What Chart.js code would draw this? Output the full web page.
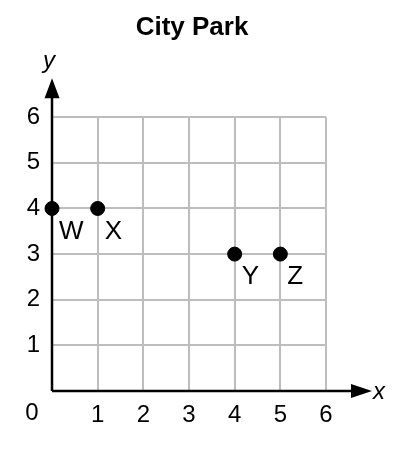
<!DOCTYPE html>
<html>
<head>
<meta charset="utf-8">
<script src="https://cdn.jsdelivr.net/npm/chart.js@4"></script>
<style>
  html, body { margin: 0; padding: 0; background: #fff; }
  #wrap { width: 408px; height: 449px; }
</style>
</head>
<body>
<div id="wrap"><canvas id="park"></canvas></div>
<script>
var titleText = "City Park";
var pointNames = ["W", "X", "Y", "Z"];
var xValues = [0, 1, 4, 5];
var yValues = [4, 4, 3, 3];
var axisMin = 0;
var axisMax = 6;
var fontName = "'Liberation Sans', Arial, sans-serif";

var points = [];
for (var i = 0; i < xValues.length; i++) {
  points.push({ x: xValues[i], y: yValues[i] });
}

// axes with arrows, axis names, origin label and point names
var decorPlugin = {
  id: "decor",
  afterDatasetsDraw: function (chart) {
    var ctx = chart.ctx;
    var area = chart.chartArea;
    var x0 = chart.scales.x.getPixelForValue(0);
    var y0 = chart.scales.y.getPixelForValue(0);
    ctx.save();
    ctx.strokeStyle = "#000";
    ctx.fillStyle = "#000";
    ctx.lineWidth = 2.5;
    ctx.beginPath();
    ctx.moveTo(x0, y0);
    ctx.lineTo(x0, area.top - 24);
    ctx.moveTo(x0, y0);
    ctx.lineTo(area.right + 30, y0);
    ctx.stroke();

    // arrow heads
    ctx.beginPath();
    ctx.moveTo(x0, area.top - 39);
    ctx.lineTo(x0 - 7.5, area.top - 19);
    ctx.lineTo(x0 + 7.5, area.top - 19);
    ctx.closePath();
    ctx.fill();
    ctx.beginPath();
    ctx.moveTo(area.right + 46, y0);
    ctx.lineTo(area.right + 25, y0 - 7);
    ctx.lineTo(area.right + 25, y0 + 7);
    ctx.closePath();
    ctx.fill();

    ctx.font = "italic 24px " + fontName;
    ctx.textAlign = "center";
    ctx.textBaseline = "middle";
    ctx.fillText("y", x0 - 3, area.top - 56);
    ctx.fillText("x", area.right + 53, y0 + 1);

    ctx.font = "24px " + fontName;
    ctx.fillText("0", x0 - 20, y0 + 22);

    ctx.font = "26px " + fontName;
    ctx.textAlign = "left";
    var meta = chart.getDatasetMeta(0);
    for (var i = 0; i < meta.data.length; i++) {
      var p = meta.data[i];
      ctx.fillText(pointNames[i], p.x + 7, p.y + 23);
    }
    ctx.restore();
  }
};

new Chart(document.getElementById("park"), {
  type: "scatter",
  data: {
    datasets: [{
      data: points,
      backgroundColor: "#000",
      borderColor: "#000",
      pointRadius: 7,
      pointHoverRadius: 7,
      clip: false
    }]
  },
  options: {
    responsive: true,
    maintainAspectRatio: false,
    animation: false,
    layout: { padding: { top: 0, right: 24, bottom: 0, left: 0 } },
    plugins: {
      legend: { display: false },
      tooltip: { enabled: false },
      title: {
        display: true,
        text: titleText,
        color: "#000",
        font: { family: fontName, size: 26, weight: "bold", lineHeight: 1.2 },
        padding: { top: 12, bottom: 74 }
      }
    },
    scales: {
      x: {
        type: "linear",
        min: axisMin,
        max: axisMax,
        afterFit: function (scale) { scale.height = 58; },
        border: { display: false },
        grid: { color: "#bdbdbd", lineWidth: 2, drawTicks: false },
        ticks: {
          stepSize: 1,
          padding: 10,
          color: "#000",
          font: { family: fontName, size: 24 },
          callback: function (v) { return v === 0 ? "" : v; }
        }
      },
      y: {
        type: "linear",
        min: axisMin,
        max: axisMax,
        afterFit: function (scale) { scale.width = 52; },
        border: { display: false },
        grid: { color: "#bdbdbd", lineWidth: 2, drawTicks: false },
        ticks: {
          stepSize: 1,
          padding: 12,
          color: "#000",
          font: { family: fontName, size: 24 },
          callback: function (v) { return v === 0 ? "" : v; }
        }
      },
      // empty right-hand strip that leaves room for the x arrow
      spare: {
        type: "linear",
        position: "right",
        afterFit: function (scale) { scale.width = 58; },
        border: { display: false },
        grid: { display: false },
        ticks: { display: false }
      }
    }
  },
  plugins: [decorPlugin]
});
</script>
</body>
</html>
